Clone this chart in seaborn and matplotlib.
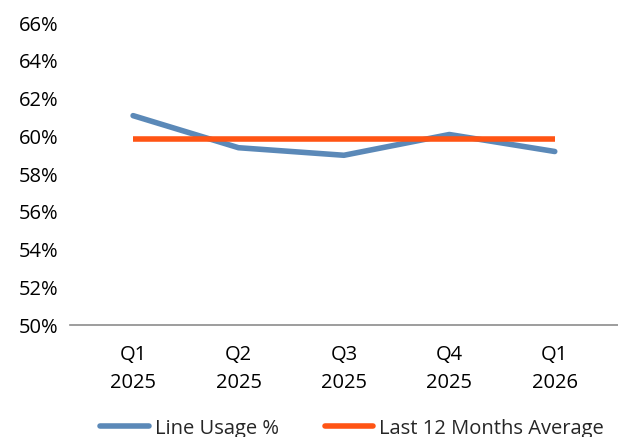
import matplotlib
matplotlib.use('Agg')
import matplotlib.pyplot as plt
import seaborn as sns
import pandas as pd
from matplotlib.ticker import PercentFormatter

quarters = ['Q1\n2025', 'Q2\n2025', 'Q3\n2025', 'Q4\n2025', 'Q1\n2026']
line_usage = [61.1, 59.4, 59.0, 60.1, 59.2]
avg_12m = [59.85, 59.85, 59.85, 59.85, 59.85]

sns.set_style('white')
plt.rcParams['font.family'] = ['Open Sans', 'DejaVu Sans']

df = pd.DataFrame({'quarter': quarters * 2,
                   'value': line_usage + avg_12m,
                   'series': ['Line Usage %'] * 5 + ['Last 12 Months Average'] * 5})
df['x'] = list(range(5)) * 2

fig, ax = plt.subplots(figsize=(6.18, 4.37), dpi=100)
fig.subplots_adjust(left=0.113, right=1.0, top=0.947, bottom=0.256)

sns.lineplot(data=df, x='x', y='value', hue='series',
             palette={'Line Usage %': '#5B89B8', 'Last 12 Months Average': '#FF5414'},
             linewidth=4, ax=ax, legend=False)
ax.lines[0].set_solid_capstyle('round')
ax.lines[1].set_solid_capstyle('butt')

ax.set_xlim(-0.6, 4.6)
ax.set_ylim(50, 66)
ax.set_yticks(range(50, 67, 2))
ax.yaxis.set_major_formatter(PercentFormatter(decimals=0))
ax.set_xticks(range(5))
ax.set_xticklabels(quarters, linespacing=1.55)
ax.set_xlabel('')
ax.set_ylabel('')
ax.tick_params(axis='both', labelsize=14.5, length=0, colors='black')
ax.tick_params(axis='x', pad=14)
ax.tick_params(axis='y', pad=8)
for s in ['top', 'right', 'left']:
    ax.spines[s].set_visible(False)
ax.spines['bottom'].set_color('#8C8C8C')
ax.spines['bottom'].set_linewidth(1.2)

handles = [plt.Line2D([], [], color='#5B89B8', lw=4, solid_capstyle='round'),
           plt.Line2D([], [], color='#FF5414', lw=4)]
fig.legend(handles, ['Line Usage %', 'Last 12 Months Average'], loc='lower center',
           bbox_to_anchor=(0.57, -0.045), ncol=2, frameon=False, fontsize=14.5,
           handlelength=2.4, handletextpad=0.3, columnspacing=2.3)

fig.savefig('out.png', dpi=100)
